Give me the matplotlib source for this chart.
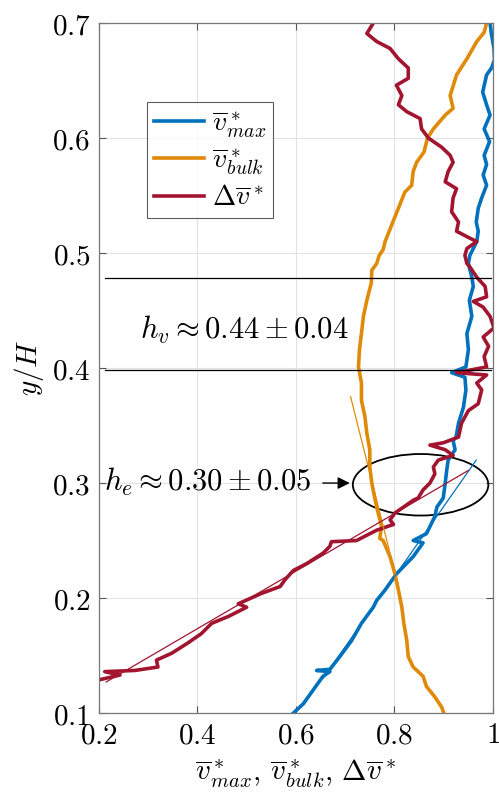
import matplotlib
matplotlib.use("Agg")
import matplotlib.pyplot as plt
from matplotlib.patches import Ellipse
from matplotlib.ticker import FuncFormatter

plt.rcParams["mathtext.fontset"] = "cm"
plt.rcParams["font.family"] = ["DejaVu Serif"]

# velocity profiles, listed from the top of the channel downwards
vmax_x = [0.994, 0.997, 1.002, 1.003, 0.997, 0.987, 0.979, 0.987, 0.994, 0.982, 0.993, 0.982,
          0.987, 0.980, 0.987, 0.977, 0.970, 0.966, 0.970, 0.967, 0.953, 0.950, 0.957, 0.960,
          0.952, 0.957, 0.947, 0.950, 0.945, 0.916, 0.943, 0.945, 0.940, 0.930, 0.925, 0.919,
          0.923, 0.909, 0.906, 0.903, 0.899, 0.886, 0.882, 0.865, 0.838, 0.858, 0.838, 0.804,
          0.781, 0.764, 0.757, 0.733, 0.713, 0.689, 0.669, 0.642, 0.669, 0.655, 0.635, 0.615, 0.595]
vmax_y = [0.700, 0.690, 0.678, 0.668, 0.661, 0.655, 0.640, 0.629, 0.620, 0.608, 0.597, 0.585,
          0.577, 0.568, 0.559, 0.548, 0.539, 0.527, 0.519, 0.510, 0.498, 0.491, 0.479, 0.471,
          0.459, 0.445, 0.430, 0.416, 0.401, 0.396, 0.392, 0.381, 0.366, 0.352, 0.340, 0.337,
          0.329, 0.320, 0.311, 0.300, 0.287, 0.279, 0.271, 0.256, 0.250, 0.248, 0.236, 0.221,
          0.207, 0.198, 0.192, 0.178, 0.163, 0.149, 0.138, 0.137, 0.136, 0.132, 0.120, 0.108, 0.100]

vbulk_x = [0.987, 0.982, 0.967, 0.947, 0.926, 0.913, 0.919, 0.903, 0.879, 0.867, 0.860, 0.845,
           0.838, 0.835, 0.821, 0.808, 0.794, 0.781, 0.777, 0.769, 0.764, 0.754, 0.753, 0.744,
           0.737, 0.733, 0.729, 0.727, 0.733, 0.733, 0.740, 0.744, 0.750, 0.750, 0.754, 0.760,
           0.764, 0.774, 0.770, 0.777, 0.791, 0.801, 0.808, 0.815, 0.819, 0.825, 0.828, 0.838,
           0.858, 0.865, 0.882, 0.896, 0.900]
vbulk_y = [0.700, 0.692, 0.684, 0.669, 0.655, 0.637, 0.626, 0.620, 0.608, 0.600, 0.588, 0.579,
           0.571, 0.559, 0.553, 0.539, 0.524, 0.510, 0.503, 0.498, 0.491, 0.485, 0.474, 0.459,
           0.445, 0.430, 0.416, 0.401, 0.387, 0.372, 0.358, 0.343, 0.329, 0.314, 0.300, 0.287,
           0.279, 0.262, 0.252, 0.250, 0.236, 0.221, 0.207, 0.192, 0.178, 0.163, 0.149, 0.140,
           0.132, 0.123, 0.114, 0.105, 0.100]

dv_x = [0.757, 0.744, 0.764, 0.791, 0.808, 0.828, 0.828, 0.804, 0.815, 0.808, 0.825, 0.852,
        0.855, 0.869, 0.896, 0.913, 0.919, 0.909, 0.903, 0.926, 0.919, 0.916, 0.930, 0.926,
        0.953, 0.967, 0.947, 0.943, 0.947, 0.953, 0.967, 0.984, 0.987, 0.960, 0.980, 0.994,
        1.002, 0.980, 0.991, 0.982, 0.987, 0.926, 0.987, 0.967, 0.977, 0.970, 0.950, 0.936,
        0.930, 0.899, 0.872, 0.903, 0.919, 0.889, 0.879, 0.882, 0.872, 0.858, 0.848, 0.838,
        0.818, 0.801, 0.791, 0.798, 0.764, 0.723, 0.672, 0.669, 0.655, 0.622, 0.595, 0.578,
        0.568, 0.530, 0.483, 0.500, 0.463, 0.429, 0.408, 0.381, 0.348, 0.317, 0.320, 0.273,
        0.212, 0.243, 0.202, 0.195]
dv_y = [0.700, 0.691, 0.684, 0.678, 0.669, 0.661, 0.652, 0.646, 0.637, 0.629, 0.623, 0.617,
        0.608, 0.600, 0.592, 0.585, 0.579, 0.571, 0.562, 0.556, 0.548, 0.536, 0.527, 0.519,
        0.513, 0.510, 0.504, 0.498, 0.491, 0.488, 0.479, 0.471, 0.462, 0.458, 0.453, 0.445,
        0.435, 0.427, 0.419, 0.410, 0.401, 0.396, 0.394, 0.387, 0.381, 0.369, 0.363, 0.352,
        0.340, 0.335, 0.333, 0.329, 0.324, 0.320, 0.314, 0.308, 0.300, 0.294, 0.287, 0.285,
        0.279, 0.274, 0.268, 0.264, 0.259, 0.250, 0.249, 0.245, 0.239, 0.230, 0.224, 0.216,
        0.210, 0.204, 0.195, 0.192, 0.184, 0.178, 0.169, 0.161, 0.152, 0.146, 0.140, 0.137,
        0.136, 0.133, 0.129, 0.127]

# linear fits in the lower region (end points)
fit_bulk_x = [0.711, 0.805]
fit_bulk_y = [0.375, 0.215]
fit_max_x = [0.966, 0.655]
fit_max_y = [0.320, 0.130]
fit_dv_x = [0.950, 0.215]
fit_dv_y = [0.311, 0.127]

hv_levels = [0.478, 0.398]
he_center = (0.853, 0.2985)

c_max = "#0072BD"
c_bulk = "#E08A0A"
c_dv = "#A2142F"

fig = plt.figure(figsize=(4.99, 7.98), dpi=100)
ax = fig.add_axes([0.198, 0.1065, 0.79, 0.8645])

ax.plot(vmax_x, vmax_y, color=c_max, lw=2.6, label=r"$\overline{v}^*_{max}$")
ax.plot(vbulk_x, vbulk_y, color=c_bulk, lw=2.6, label=r"$\overline{v}^*_{bulk}$")
ax.plot(dv_x, dv_y, color=c_dv, lw=2.6, label=r"$\Delta\overline{v}^*$")

ax.plot(fit_bulk_x, fit_bulk_y, color=c_bulk, lw=0.9)
ax.plot(fit_max_x, fit_max_y, color=c_max, lw=0.9)
ax.plot(fit_dv_x, fit_dv_y, color=c_dv, lw=0.9)

for lev in hv_levels:
    ax.plot([0.212, 0.995], [lev, lev], color="k", lw=0.9)

ax.text(0.283, 0.433, r"$h_v \approx 0.44 \pm 0.04$", fontsize=22, va="center", ha="left")
ax.text(0.210, 0.301, r"$h_e \approx 0.30 \pm 0.05$", fontsize=22, va="center", ha="left")
ax.annotate("", xy=(0.715, 0.300), xytext=(0.649, 0.300),
            arrowprops=dict(arrowstyle="-|>", color="k", lw=1.0, mutation_scale=18))
ax.add_patch(Ellipse(he_center, 0.275, 0.0535, fill=False, edgecolor="k", lw=1.3))

ax.set_xlim(0.2, 1.0)
ax.set_ylim(0.1, 0.7)
ax.set_xticks([0.2, 0.4, 0.6, 0.8, 1.0])
ax.set_yticks([0.1, 0.2, 0.3, 0.4, 0.5, 0.6, 0.7])
ax.xaxis.set_major_formatter(FuncFormatter(lambda v, p: "$%g$" % round(v, 2)))
ax.yaxis.set_major_formatter(FuncFormatter(lambda v, p: "$%g$" % round(v, 2)))
ax.tick_params(direction="in", length=5, width=0.8, labelsize=21, top=True, right=True,
               color="#555555", pad=6)
ax.grid(True, color="#e3e3e3", lw=0.8)
ax.set_axisbelow(True)
for s in ax.spines.values():
    s.set_color("#777777")
    s.set_linewidth(0.9)

ax.set_xlabel(r"$\overline{v}^*_{max},\,\overline{v}^*_{bulk},\,\Delta\overline{v}^*$", fontsize=21, labelpad=6)
ax.set_ylabel(r"$y/H$", fontsize=21, labelpad=4)

leg = ax.legend(loc="upper left", bbox_to_anchor=(0.122, 0.886), fontsize=20, frameon=True,
                fancybox=False, edgecolor="#333333", handlelength=1.8, handletextpad=0.3,
                labelspacing=0.25, borderpad=0.25, borderaxespad=0)
leg.get_frame().set_linewidth(0.8)

plt.savefig("out.png", dpi=100)
plt.close()
